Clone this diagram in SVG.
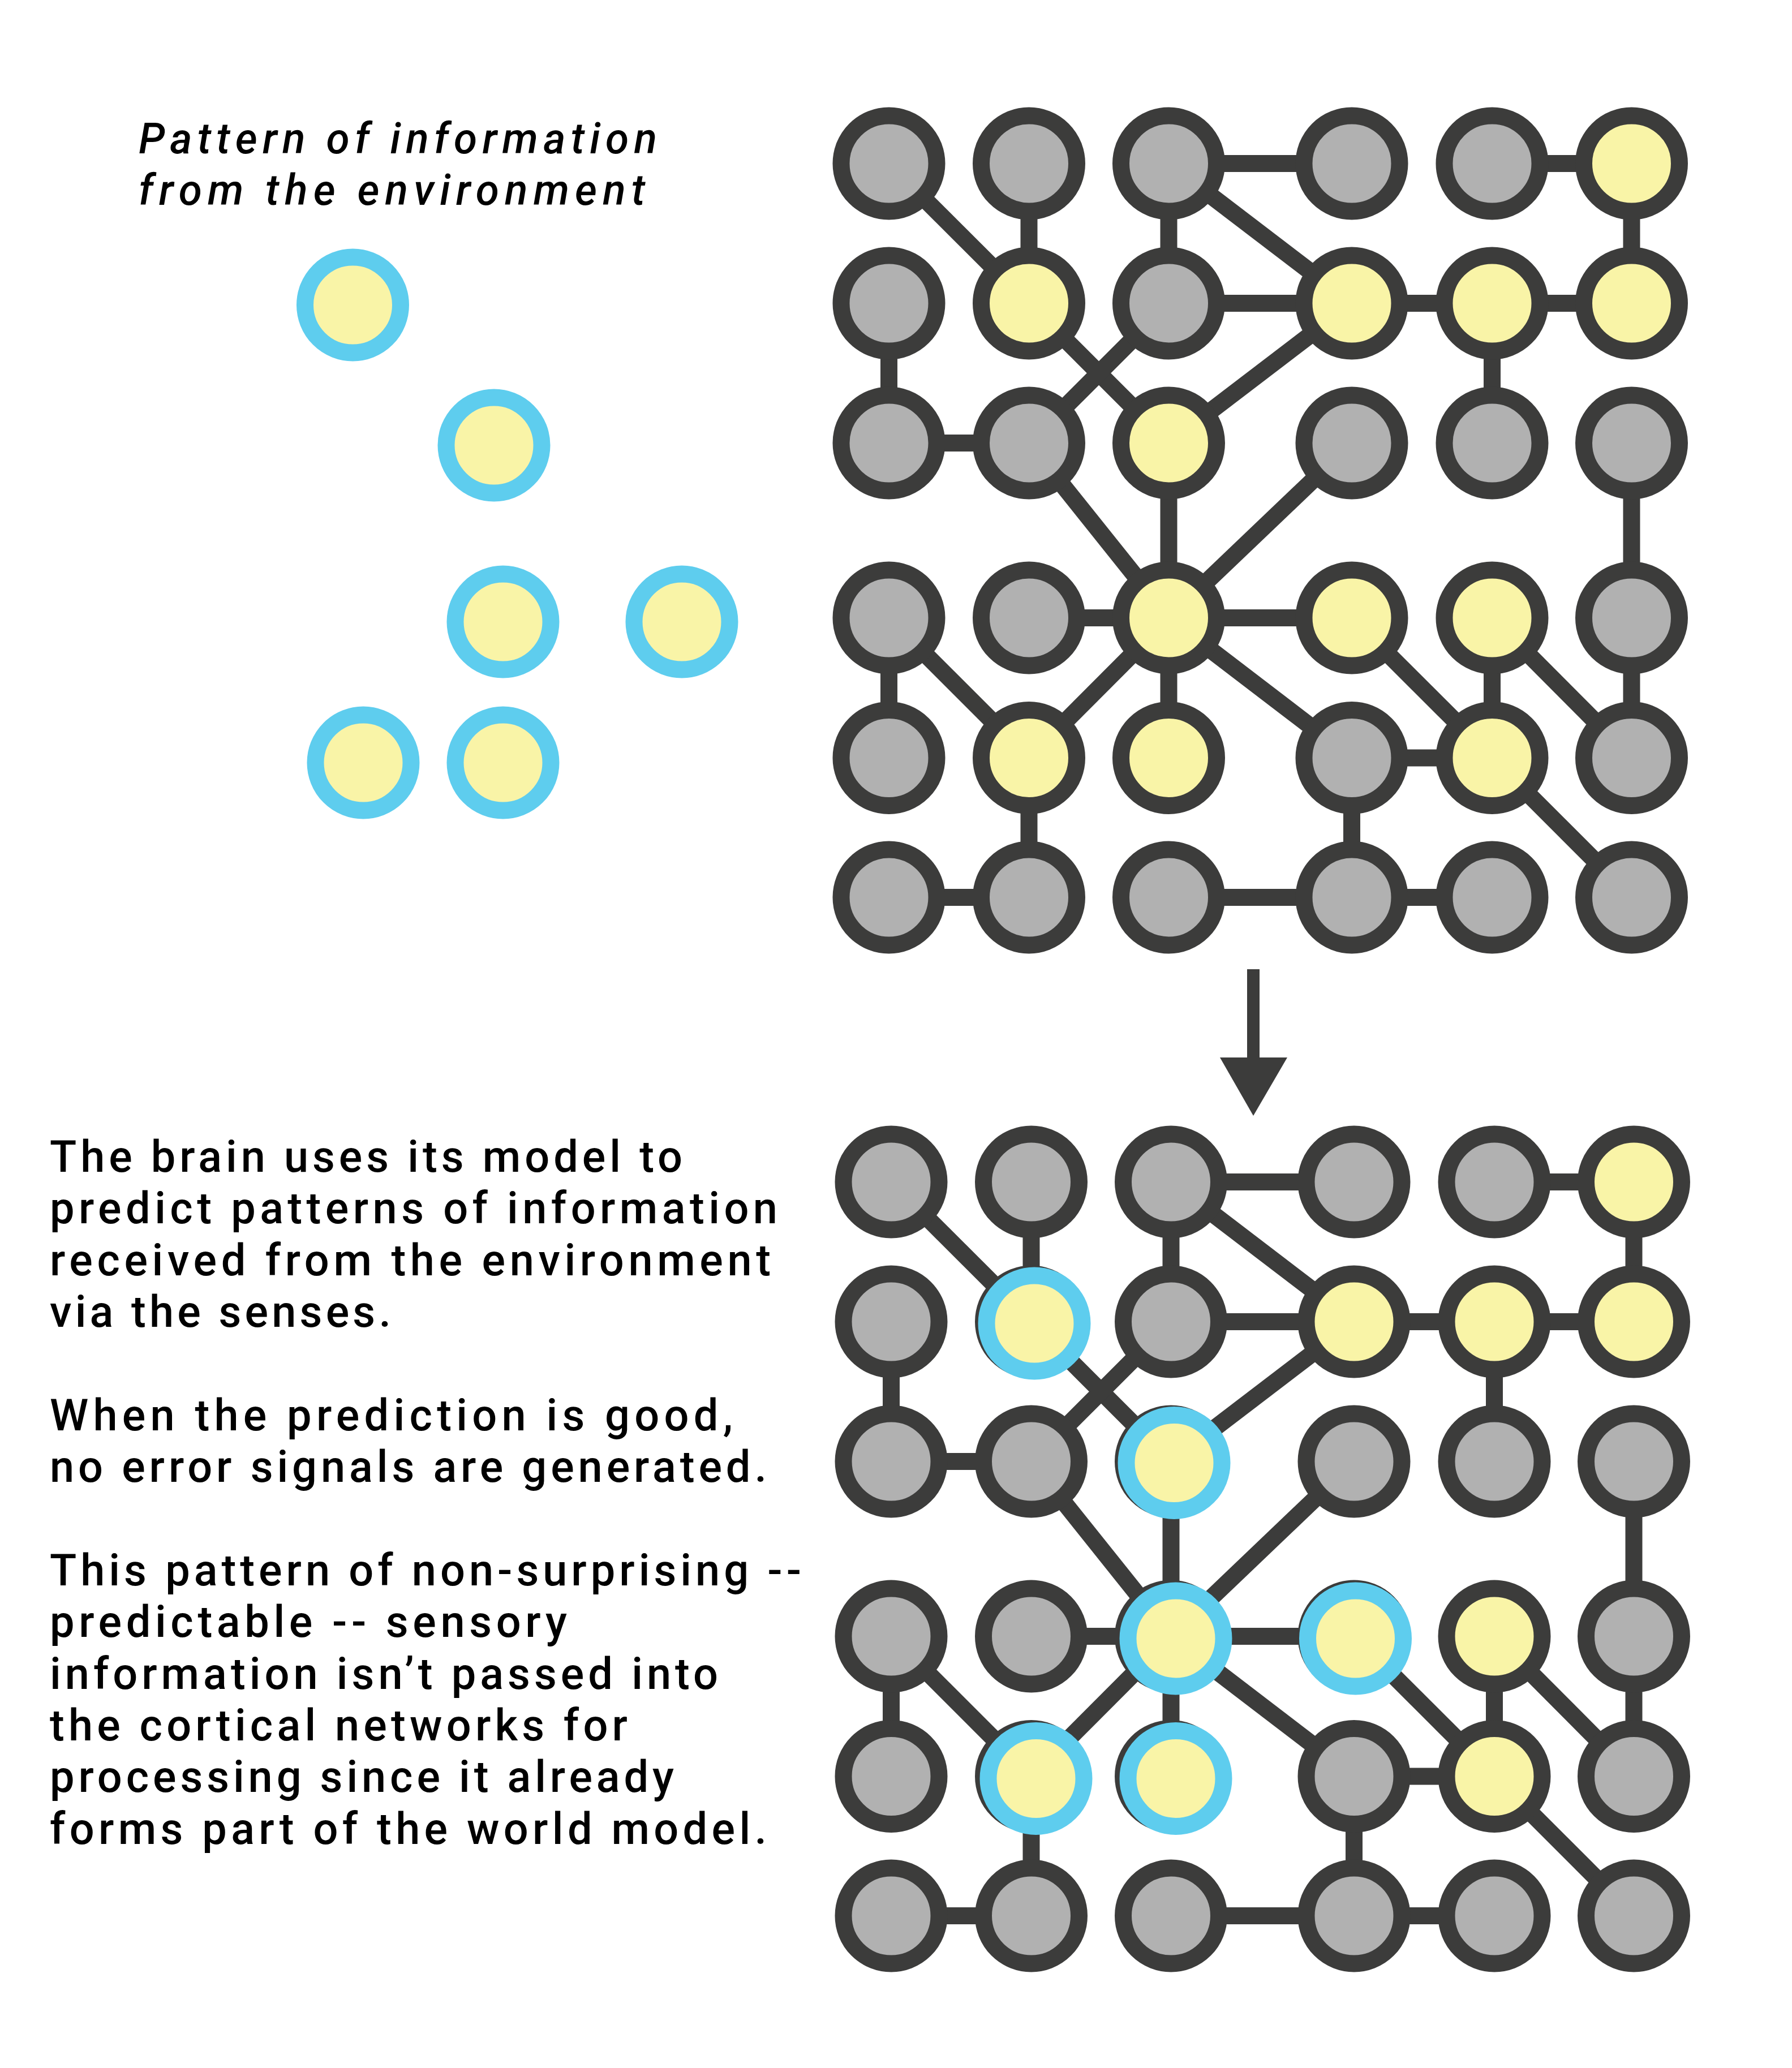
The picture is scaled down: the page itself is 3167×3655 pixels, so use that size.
<svg xmlns="http://www.w3.org/2000/svg" width="3167" height="3655" viewBox="0 0 3167 3655">
<style>
.e{stroke:#3c3c3b;stroke-width:30;stroke-linecap:butt;fill:none}
.n{stroke:#3c3c3b;stroke-width:30}
.g{fill:#b1b1b1}
.y{fill:#f9f4a7}
.b{stroke:#5ecdee;stroke-width:30;fill:#f9f4a7}
.t{font-family:Roboto,"Liberation Sans",Arial,sans-serif;font-weight:500;font-size:77.5px;fill:#000}
.ti{font-family:Roboto,"Liberation Sans",Arial,sans-serif;font-weight:500;font-style:italic;font-size:75px;fill:#000}
</style>
<rect width="3167" height="3655" fill="#ffffff"/>

<g id="caption-top">
<text class="ti" x="245" y="271" textLength="916" lengthAdjust="spacing">Pattern of information</text>
<text class="ti" x="245" y="362" textLength="895" lengthAdjust="spacing">from the environment</text>
</g>

<g id="pattern">
<g id="p1"><circle class="b" cx="623.5" cy="539" r="84.5"/></g>
<g id="p2"><circle class="b" cx="873" cy="787" r="84.5"/></g>
<g id="p3"><circle class="b" cx="889" cy="1099" r="84.5"/></g>
<g id="p4"><circle class="b" cx="1205" cy="1099" r="84.5"/></g>
<g id="p5"><circle class="b" cx="642" cy="1348" r="84.5"/></g>
<g id="p6"><circle class="b" cx="889" cy="1348" r="84.5"/></g>
</g>

<g id="top-grid">
<g id="top-connectors">
<line class="e" x1="1571" y1="289" x2="1818.5" y2="536"/>
<line class="e" x1="1818.5" y1="289" x2="1818.5" y2="536"/>
<line class="e" x1="2065.5" y1="289" x2="2389" y2="289"/>
<line class="e" x1="2065.5" y1="289" x2="2065.5" y2="536"/>
<line class="e" x1="2065.5" y1="289" x2="2389" y2="536"/>
<line class="e" x1="2637" y1="289" x2="2883.5" y2="289"/>
<line class="e" x1="2883.5" y1="289" x2="2883.5" y2="536"/>
<line class="e" x1="1571" y1="536" x2="1571" y2="783"/>
<line class="e" x1="1818.5" y1="536" x2="2065.5" y2="783"/>
<line class="e" x1="2065.5" y1="536" x2="1818.5" y2="783"/>
<line class="e" x1="2065.5" y1="536" x2="2389" y2="536"/>
<line class="e" x1="2389" y1="536" x2="2637" y2="536"/>
<line class="e" x1="2637" y1="536" x2="2883.5" y2="536"/>
<line class="e" x1="2389" y1="536" x2="2065.5" y2="783"/>
<line class="e" x1="2637" y1="536" x2="2637" y2="783"/>
<line class="e" x1="1571" y1="783" x2="1818.5" y2="783"/>
<line class="e" x1="1818.5" y1="783" x2="2065.5" y2="1092"/>
<line class="e" x1="2065.5" y1="783" x2="2065.5" y2="1092"/>
<line class="e" x1="2389" y1="783" x2="2065.5" y2="1092"/>
<line class="e" x1="2883.5" y1="783" x2="2883.5" y2="1092"/>
<line class="e" x1="1818.5" y1="1092" x2="2065.5" y2="1092"/>
<line class="e" x1="2065.5" y1="1092" x2="2389" y2="1092"/>
<line class="e" x1="1571" y1="1092" x2="1571" y2="1339.5"/>
<line class="e" x1="1571" y1="1092" x2="1818.5" y2="1339.5"/>
<line class="e" x1="2065.5" y1="1092" x2="1818.5" y2="1339.5"/>
<line class="e" x1="2065.5" y1="1092" x2="2065.5" y2="1339.5"/>
<line class="e" x1="2065.5" y1="1092" x2="2389" y2="1339.5"/>
<line class="e" x1="2389" y1="1092" x2="2637" y2="1339.5"/>
<line class="e" x1="2637" y1="1092" x2="2637" y2="1339.5"/>
<line class="e" x1="2637" y1="1092" x2="2883.5" y2="1339.5"/>
<line class="e" x1="2883.5" y1="1092" x2="2883.5" y2="1339.5"/>
<line class="e" x1="2389" y1="1339.5" x2="2637" y2="1339.5"/>
<line class="e" x1="2389" y1="1339.5" x2="2389" y2="1586"/>
<line class="e" x1="2637" y1="1339.5" x2="2883.5" y2="1586"/>
<line class="e" x1="1818.5" y1="1339.5" x2="1818.5" y2="1586"/>
<line class="e" x1="1571" y1="1586" x2="1818.5" y2="1586"/>
<line class="e" x1="2065.5" y1="1586" x2="2389" y2="1586"/>
<line class="e" x1="2389" y1="1586" x2="2637" y2="1586"/>
</g>
<g id="top-nodes">
<g id="t00"><circle class="n g" cx="1571" cy="289" r="84.5"/></g>
<g id="t01"><circle class="n g" cx="1818.5" cy="289" r="84.5"/></g>
<g id="t02"><circle class="n g" cx="2065.5" cy="289" r="84.5"/></g>
<g id="t03"><circle class="n g" cx="2389" cy="289" r="84.5"/></g>
<g id="t04"><circle class="n g" cx="2637" cy="289" r="84.5"/></g>
<g id="t05"><circle class="n y" cx="2883.5" cy="289" r="84.5"/></g>
<g id="t10"><circle class="n g" cx="1571" cy="536" r="84.5"/></g>
<g id="t11"><circle class="n y" cx="1818.5" cy="536" r="84.5"/></g>
<g id="t12"><circle class="n g" cx="2065.5" cy="536" r="84.5"/></g>
<g id="t13"><circle class="n y" cx="2389" cy="536" r="84.5"/></g>
<g id="t14"><circle class="n y" cx="2637" cy="536" r="84.5"/></g>
<g id="t15"><circle class="n y" cx="2883.5" cy="536" r="84.5"/></g>
<g id="t20"><circle class="n g" cx="1571" cy="783" r="84.5"/></g>
<g id="t21"><circle class="n g" cx="1818.5" cy="783" r="84.5"/></g>
<g id="t22"><circle class="n y" cx="2065.5" cy="783" r="84.5"/></g>
<g id="t23"><circle class="n g" cx="2389" cy="783" r="84.5"/></g>
<g id="t24"><circle class="n g" cx="2637" cy="783" r="84.5"/></g>
<g id="t25"><circle class="n g" cx="2883.5" cy="783" r="84.5"/></g>
<g id="t30"><circle class="n g" cx="1571" cy="1092" r="84.5"/></g>
<g id="t31"><circle class="n g" cx="1818.5" cy="1092" r="84.5"/></g>
<g id="t32"><circle class="n y" cx="2065.5" cy="1092" r="84.5"/></g>
<g id="t33"><circle class="n y" cx="2389" cy="1092" r="84.5"/></g>
<g id="t34"><circle class="n y" cx="2637" cy="1092" r="84.5"/></g>
<g id="t35"><circle class="n g" cx="2883.5" cy="1092" r="84.5"/></g>
<g id="t40"><circle class="n g" cx="1571" cy="1339.5" r="84.5"/></g>
<g id="t41"><circle class="n y" cx="1818.5" cy="1339.5" r="84.5"/></g>
<g id="t42"><circle class="n y" cx="2065.5" cy="1339.5" r="84.5"/></g>
<g id="t43"><circle class="n g" cx="2389" cy="1339.5" r="84.5"/></g>
<g id="t44"><circle class="n y" cx="2637" cy="1339.5" r="84.5"/></g>
<g id="t45"><circle class="n g" cx="2883.5" cy="1339.5" r="84.5"/></g>
<g id="t50"><circle class="n g" cx="1571" cy="1586" r="84.5"/></g>
<g id="t51"><circle class="n g" cx="1818.5" cy="1586" r="84.5"/></g>
<g id="t52"><circle class="n g" cx="2065.5" cy="1586" r="84.5"/></g>
<g id="t53"><circle class="n g" cx="2389" cy="1586" r="84.5"/></g>
<g id="t54"><circle class="n g" cx="2637" cy="1586" r="84.5"/></g>
<g id="t55"><circle class="n g" cx="2883.5" cy="1586" r="84.5"/></g>
</g>
</g>

<g id="arrow">
<line x1="2215" y1="1713" x2="2215" y2="1872" stroke="#3c3c3b" stroke-width="22"/>
<polygon points="2156,1869 2275,1869 2215,1972" fill="#3c3c3b"/>
</g>

<g id="bottom-grid" transform="translate(4,1800)">
<g id="bottom-connectors">
<line class="e" x1="1571" y1="289" x2="1818.5" y2="536"/>
<line class="e" x1="1818.5" y1="289" x2="1818.5" y2="536"/>
<line class="e" x1="2065.5" y1="289" x2="2389" y2="289"/>
<line class="e" x1="2065.5" y1="289" x2="2065.5" y2="536"/>
<line class="e" x1="2065.5" y1="289" x2="2389" y2="536"/>
<line class="e" x1="2637" y1="289" x2="2883.5" y2="289"/>
<line class="e" x1="2883.5" y1="289" x2="2883.5" y2="536"/>
<line class="e" x1="1571" y1="536" x2="1571" y2="783"/>
<line class="e" x1="1818.5" y1="536" x2="2065.5" y2="783"/>
<line class="e" x1="2065.5" y1="536" x2="1818.5" y2="783"/>
<line class="e" x1="2065.5" y1="536" x2="2389" y2="536"/>
<line class="e" x1="2389" y1="536" x2="2637" y2="536"/>
<line class="e" x1="2637" y1="536" x2="2883.5" y2="536"/>
<line class="e" x1="2389" y1="536" x2="2065.5" y2="783"/>
<line class="e" x1="2637" y1="536" x2="2637" y2="783"/>
<line class="e" x1="1571" y1="783" x2="1818.5" y2="783"/>
<line class="e" x1="1818.5" y1="783" x2="2065.5" y2="1092"/>
<line class="e" x1="2065.5" y1="783" x2="2065.5" y2="1092"/>
<line class="e" x1="2389" y1="783" x2="2065.5" y2="1092"/>
<line class="e" x1="2883.5" y1="783" x2="2883.5" y2="1092"/>
<line class="e" x1="1818.5" y1="1092" x2="2065.5" y2="1092"/>
<line class="e" x1="2065.5" y1="1092" x2="2389" y2="1092"/>
<line class="e" x1="1571" y1="1092" x2="1571" y2="1339.5"/>
<line class="e" x1="1571" y1="1092" x2="1818.5" y2="1339.5"/>
<line class="e" x1="2065.5" y1="1092" x2="1818.5" y2="1339.5"/>
<line class="e" x1="2065.5" y1="1092" x2="2065.5" y2="1339.5"/>
<line class="e" x1="2065.5" y1="1092" x2="2389" y2="1339.5"/>
<line class="e" x1="2389" y1="1092" x2="2637" y2="1339.5"/>
<line class="e" x1="2637" y1="1092" x2="2637" y2="1339.5"/>
<line class="e" x1="2637" y1="1092" x2="2883.5" y2="1339.5"/>
<line class="e" x1="2883.5" y1="1092" x2="2883.5" y2="1339.5"/>
<line class="e" x1="2389" y1="1339.5" x2="2637" y2="1339.5"/>
<line class="e" x1="2389" y1="1339.5" x2="2389" y2="1586"/>
<line class="e" x1="2637" y1="1339.5" x2="2883.5" y2="1586"/>
<line class="e" x1="1818.5" y1="1339.5" x2="1818.5" y2="1586"/>
<line class="e" x1="1571" y1="1586" x2="1818.5" y2="1586"/>
<line class="e" x1="2065.5" y1="1586" x2="2389" y2="1586"/>
<line class="e" x1="2389" y1="1586" x2="2637" y2="1586"/>
</g>
<g id="bottom-nodes">
<g id="b00"><circle class="n g" cx="1571" cy="289" r="84.5"/></g>
<g id="b01"><circle class="n g" cx="1818.5" cy="289" r="84.5"/></g>
<g id="b02"><circle class="n g" cx="2065.5" cy="289" r="84.5"/></g>
<g id="b03"><circle class="n g" cx="2389" cy="289" r="84.5"/></g>
<g id="b04"><circle class="n g" cx="2637" cy="289" r="84.5"/></g>
<g id="b05"><circle class="n y" cx="2883.5" cy="289" r="84.5"/></g>
<g id="b10"><circle class="n g" cx="1571" cy="536" r="84.5"/></g>
<g id="b11"><circle class="n y" cx="1818.5" cy="536" r="84.5"/><circle class="b" cx="1824" cy="539" r="84.5"/></g>
<g id="b12"><circle class="n g" cx="2065.5" cy="536" r="84.5"/></g>
<g id="b13"><circle class="n y" cx="2389" cy="536" r="84.5"/></g>
<g id="b14"><circle class="n y" cx="2637" cy="536" r="84.5"/></g>
<g id="b15"><circle class="n y" cx="2883.5" cy="536" r="84.5"/></g>
<g id="b20"><circle class="n g" cx="1571" cy="783" r="84.5"/></g>
<g id="b21"><circle class="n g" cx="1818.5" cy="783" r="84.5"/></g>
<g id="b22"><circle class="n y" cx="2065.5" cy="783" r="84.5"/><circle class="b" cx="2071" cy="785.5" r="84.5"/></g>
<g id="b23"><circle class="n g" cx="2389" cy="783" r="84.5"/></g>
<g id="b24"><circle class="n g" cx="2637" cy="783" r="84.5"/></g>
<g id="b25"><circle class="n g" cx="2883.5" cy="783" r="84.5"/></g>
<g id="b30"><circle class="n g" cx="1571" cy="1092" r="84.5"/></g>
<g id="b31"><circle class="n g" cx="1818.5" cy="1092" r="84.5"/></g>
<g id="b32"><circle class="n y" cx="2065.5" cy="1092" r="84.5"/><circle class="b" cx="2074" cy="1096" r="84.5"/></g>
<g id="b33"><circle class="n y" cx="2389" cy="1092" r="84.5"/><circle class="b" cx="2391.5" cy="1096" r="84.5"/></g>
<g id="b34"><circle class="n y" cx="2637" cy="1092" r="84.5"/></g>
<g id="b35"><circle class="n g" cx="2883.5" cy="1092" r="84.5"/></g>
<g id="b40"><circle class="n g" cx="1571" cy="1339.5" r="84.5"/></g>
<g id="b41"><circle class="n y" cx="1818.5" cy="1339.5" r="84.5"/><circle class="b" cx="1827" cy="1343.5" r="84.5"/></g>
<g id="b42"><circle class="n y" cx="2065.5" cy="1339.5" r="84.5"/><circle class="b" cx="2074" cy="1343.5" r="84.5"/></g>
<g id="b43"><circle class="n g" cx="2389" cy="1339.5" r="84.5"/></g>
<g id="b44"><circle class="n y" cx="2637" cy="1339.5" r="84.5"/></g>
<g id="b45"><circle class="n g" cx="2883.5" cy="1339.5" r="84.5"/></g>
<g id="b50"><circle class="n g" cx="1571" cy="1586" r="84.5"/></g>
<g id="b51"><circle class="n g" cx="1818.5" cy="1586" r="84.5"/></g>
<g id="b52"><circle class="n g" cx="2065.5" cy="1586" r="84.5"/></g>
<g id="b53"><circle class="n g" cx="2389" cy="1586" r="84.5"/></g>
<g id="b54"><circle class="n g" cx="2637" cy="1586" r="84.5"/></g>
<g id="b55"><circle class="n g" cx="2883.5" cy="1586" r="84.5"/></g>
</g>
</g>

<g id="caption-bottom">
<text class="t" x="88" y="2071" textLength="1118" lengthAdjust="spacing">The brain uses its model to</text>
<text class="t" x="88" y="2162" textLength="1286" lengthAdjust="spacing">predict patterns of information</text>
<text class="t" x="88" y="2253.5" textLength="1274" lengthAdjust="spacing">received from the environment</text>
<text class="t" x="88" y="2345" textLength="603" lengthAdjust="spacing">via the senses.</text>
<text class="t" x="88" y="2528" textLength="1207" lengthAdjust="spacing">When the prediction is good,</text>
<text class="t" x="88" y="2619" textLength="1267" lengthAdjust="spacing">no error signals are generated.</text>
<text class="t" x="88" y="2802" textLength="1328" lengthAdjust="spacing">This pattern of non-surprising --</text>
<text class="t" x="88" y="2893" textLength="914" lengthAdjust="spacing">predictable -- sensory</text>
<text class="t" x="88" y="2984.5" textLength="1181" lengthAdjust="spacing">information isn’t passed into</text>
<text class="t" x="88" y="3076" textLength="1021" lengthAdjust="spacing">the cortical networks for</text>
<text class="t" x="88" y="3167" textLength="1103" lengthAdjust="spacing">processing since it already</text>
<text class="t" x="88" y="3258.5" textLength="1267" lengthAdjust="spacing">forms part of the world model.</text>
</g>
</svg>
